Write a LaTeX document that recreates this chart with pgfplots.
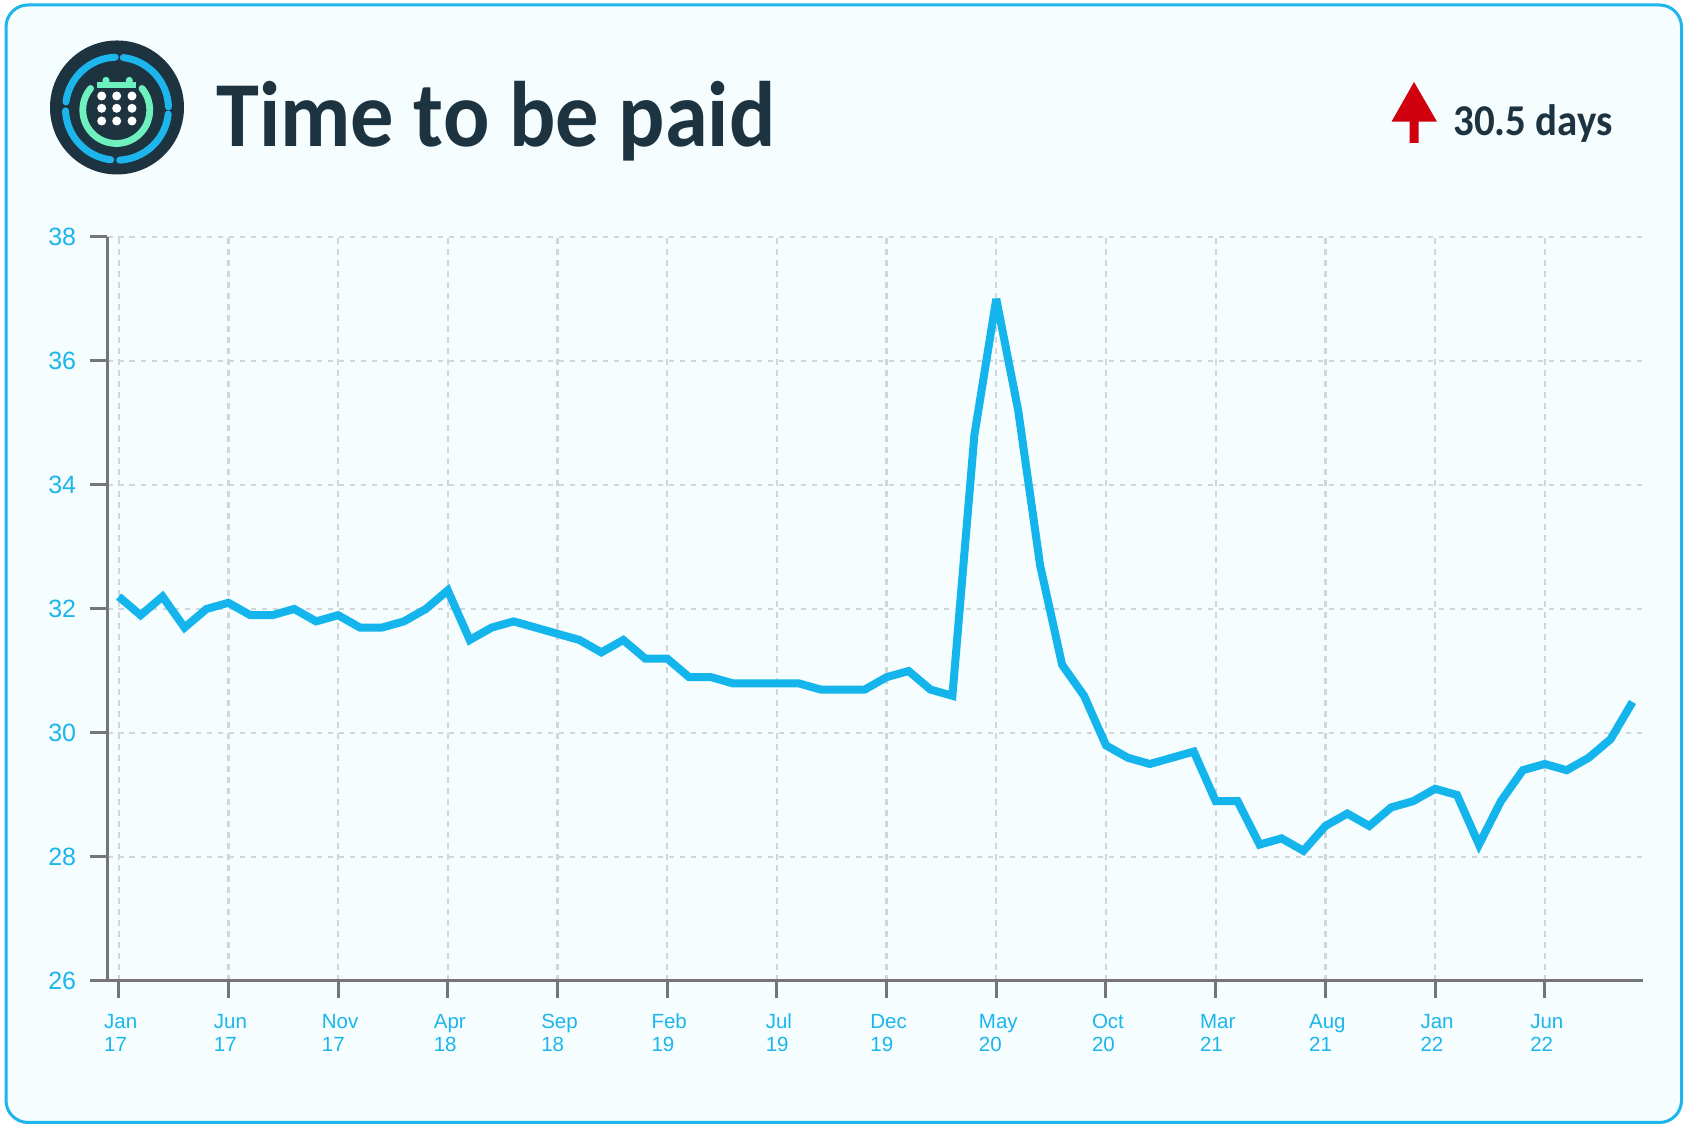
\documentclass[border=0pt]{standalone}
\usepackage{fontspec}
\usepackage{pgfplots}
\pgfplotsset{compat=1.18}
\setmainfont{Liberation Sans}
\newfontfamily\headfont[FakeStretch=0.93]{Carlito}
\newcommand\tl[2]{\rule{0pt}{8pt}#1\\#2}
\definecolor{frameblue}{HTML}{1CB5EC}
\definecolor{linecol}{HTML}{14B5EC}
\definecolor{panel}{HTML}{F5FDFF}
\definecolor{axisgray}{HTML}{757575}
\definecolor{gridgray}{HTML}{D0D7DA}
\definecolor{navy}{HTML}{1E3340}
\definecolor{mint}{HTML}{6FF0BF}
\definecolor{redup}{HTML}{D0000F}
\begin{document}
\begin{tikzpicture}[x=0.5pt,y=0.5pt]
\useasboundingbox (0,0) rectangle (1686,1127);
\fill[white] (0,0) rectangle (1686,1127);
\begin{scope}[y=-0.5pt,yshift=563.5pt]
\draw[frameblue,fill=panel,line width=1.5pt,rounded corners=11pt] (6,5) rectangle (1681.5,1122.5);
% logo
\fill[navy] (117,107.5) circle[radius=67];
\begin{scope}[shift={(117,108.7)},line width=3.5pt,line cap=round,frameblue]
\draw (-83:51.5) arc[start angle=-83,end angle=-2,radius=51.5];
\draw (6:51.5) arc[start angle=6,end angle=87,radius=51.5];
\draw (97:51.5) arc[start angle=97,end angle=177.5,radius=51.5];
\draw (187.6:51.5) arc[start angle=187.6,end angle=268,radius=51.5];
\end{scope}
\begin{scope}[shift={(116.3,110)}]
\draw[mint,line width=3.4pt,line cap=round] (-140:33.5) arc[start angle=-140,end angle=-400,radius=33.5];
\end{scope}
\fill[mint] (97.3,81.7) rectangle (136,87.7);
\fill[mint] (106,80.5) circle[radius=3.6];
\fill[mint] (129.3,80.5) circle[radius=3.6];
\foreach \xx in {101.7,116.7,132}\foreach \yy in {96,108.3,121}{\fill[white] (\xx,\yy) circle[radius=4.5];}
% title
\node[anchor=base west,inner sep=0pt,text=navy,font={\headfont\bfseries\fontsize{46.5pt}{50pt}\selectfont}] at (216,146.7) {Time to be paid};
% arrow
\fill[redup] (1414,82) -- (1437,121.7) -- (1418.7,121.7) -- (1418.7,143) -- (1409.7,143) -- (1409.7,121.7) -- (1391.5,121.7) -- cycle;
\node[anchor=base west,inner sep=0pt,text=navy,font={\headfont\bfseries\fontsize{22pt}{24pt}\selectfont}] at (1453,136) {30.5 days};
\end{scope}
\begin{axis}[
  at={(53.75pt,73pt)},anchor=south west,
  scale only axis,width=767.9pt,height=372pt,
  xmin=-0.51,xmax=69.49,ymin=26,ymax=38,
  axis lines=left,axis line style={-,axisgray,line width=1.5pt},
  xtick={0,5,...,65},ytick={26,28,...,38},
  xticklabels={{\tl{Jan}{17}},{\tl{Jun}{17}},{\tl{Nov}{17}},{\tl{Apr}{18}},{\tl{Sep}{18}},{\tl{Feb}{19}},{\tl{Jul}{19}},{\tl{Dec}{19}},{\tl{May}{20}},{\tl{Oct}{20}},{\tl{Mar}{21}},{\tl{Aug}{21}},{\tl{Jan}{22}},{\tl{Jun}{22}}},
  tick align=outside,major tick length=8.5pt,
  tick style={axisgray,line width=1.5pt},
  grid=major,grid style={gridgray,line width=1.15pt,dash pattern=on 2.75pt off 2.75pt},
  xticklabel style={text=frameblue,align=left,font=\fontsize{10.25pt}{11.35pt}\selectfont,inner sep=0pt,yshift=-7.3pt,xshift=1pt},
  yticklabel style={text=frameblue,font=\fontsize{12.5pt}{14pt}\selectfont,inner sep=0pt,xshift=-7pt},
  /pgf/number format/assume math mode=true,
  clip=false,
]
\addplot[linecol,line width=4pt,line join=miter,miter limit=4,line cap=butt,sharp plot,no marks] coordinates {
(0,32.2)(1,31.9)(2,32.2)(3,31.7)(4,32.0)(5,32.1)(6,31.9)(7,31.9)(8,32.0)(9,31.8)
(10,31.9)(11,31.7)(12,31.7)(13,31.8)(14,32.0)(15,32.3)(16,31.5)(17,31.7)(18,31.8)(19,31.7)
(20,31.6)(21,31.5)(22,31.3)(23,31.5)(24,31.2)(25,31.2)(26,30.9)(27,30.9)(28,30.8)(29,30.8)
(30,30.8)(31,30.8)(32,30.7)(33,30.7)(34,30.7)(35,30.9)(36,31.0)(37,30.7)(38,30.6)(39,34.8)
(40,37.0)(41,35.2)(42,32.7)(43,31.1)(44,30.6)(45,29.8)(46,29.6)(47,29.5)(48,29.6)(49,29.7)
(50,28.9)(51,28.9)(52,28.2)(53,28.3)(54,28.1)(55,28.5)(56,28.7)(57,28.5)(58,28.8)(59,28.9)
(60,29.1)(61,29.0)(62,28.2)(63,28.9)(64,29.4)(65,29.5)(66,29.4)(67,29.6)(68,29.9)(69,30.5)
};
\end{axis}
\end{tikzpicture}
\end{document}
